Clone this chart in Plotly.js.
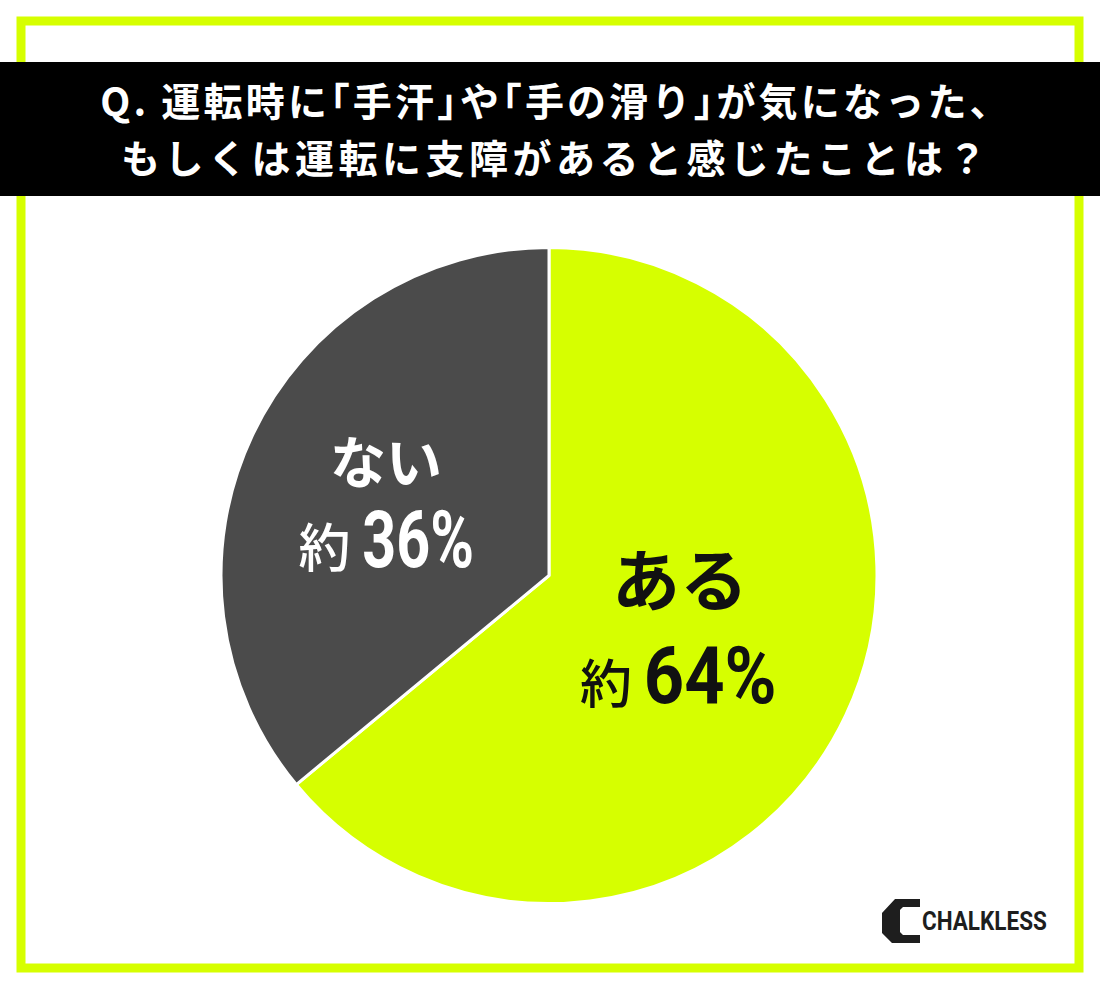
<!DOCTYPE html>
<html><head><meta charset="utf-8">
<script src="https://cdn.plot.ly/plotly-3.0.1.min.js"></script>
<style>
html,body{margin:0;padding:0;background:#fff;}
#chart{width:1100px;height:990px;}
</style></head><body><div id="chart"></div>
<script>
// ---- data ----
const categories = ["ある", "ない"];
const values = [64, 36];
const sliceColors = ["#d6ff00", "#4b4b4b"];
const labelColors = ["#111111", "#ffffff"];
const approxWord = "約";
const titleLines = ["Q. 運転時に「手汗」や「手の滑り」が気になった、", "もしくは運転に支障があると感じたことは？"];
const brandName = "CHALKLESS";

// ---- helpers (pixel -> paper) ----
const W = 1100, H = 990;
const px = x => x / W;
const py = y => 1 - y / H;

function halt(s) {
  return s.replace(/([「」])/g, "<span style='font-feature-settings:\"halt\"'>$1</span>");
}
const titleText =
  "<span style='font-size:39px;letter-spacing:3.2px'>" + halt(titleLines[0]) + "</span><br>" +
  "<span style='font-size:39px;letter-spacing:4.5px'>" + halt(titleLines[1]) + "</span>";

const JP = "Noto Sans CJK JP";
const NUMFONT = "Roboto, Noto Sans, sans-serif";

// label layout per slice: word font size, positions (pixel centres), glyph condensing
const labelStyle = [
  {wordSize: 68, wordX: 680, wordY: 576, numX: 678, numY: 676, squeeze: 0.88},
  {wordSize: 56, wordX: 386, wordY: 458, numX: 386, numY: 540, squeeze: 0.74}
];

const annotations = [];
categories.forEach((c, i) => {
  const st = labelStyle[i];
  annotations.push({
    text: "<b>" + c + "</b>", xref: "paper", yref: "paper",
    x: px(st.wordX), y: py(st.wordY), xanchor: "center", yanchor: "middle",
    showarrow: false, font: {family: JP, size: st.wordSize, color: labelColors[i], weight: 700}
  });
  annotations.push({
    text: "<span style='font-weight:500'>" + approxWord + " </span>" +
          "<span style='font-family:" + NUMFONT + ";font-size:80px;font-weight:700'>" + values[i] + "%</span>",
    xref: "paper", yref: "paper",
    x: px(st.numX), y: py(st.numY), xanchor: "center", yanchor: "middle",
    showarrow: false, font: {family: JP, size: 52, color: labelColors[i]}
  });
});
annotations.push({
  text: "<b>" + brandName + "</b>", xref: "paper", yref: "paper",
  x: px(984), y: py(921), xanchor: "center", yanchor: "middle", showarrow: false,
  font: {family: "Roboto, sans-serif", size: 25, color: "#1e1e1e"}
});

// logo icon outline (pixel coordinates -> paper path)
const iconPts = [[895,899],[920,899],[920,907],[903,907],[900,910],[900,932],[903,935],[920,935],[920,943],[892,943],[882,933],[882,913]];
const iconPath = "M " + iconPts.map(p => px(p[0]).toFixed(5) + " " + py(p[1]).toFixed(5)).join(" L ") + " Z";

const shapes = [
  {type: "rect", xref: "paper", yref: "paper", layer: "below",
   x0: px(21), x1: px(1079), y0: py(21), y1: py(968),
   line: {color: "#d6ff00", width: 9}, fillcolor: "rgba(0,0,0,0)"},
  {type: "rect", xref: "paper", yref: "paper", layer: "below",
   x0: 0, x1: 1, y0: py(196), y1: py(62),
   line: {width: 0}, fillcolor: "#000000"},
  {type: "path", xref: "paper", yref: "paper", layer: "above",
   path: iconPath, fillcolor: "#1e1e1e", line: {width: 0}}
];

const trace = {
  type: "pie",
  labels: categories,
  values: values,
  sort: false,
  direction: "clockwise",
  rotation: 0,
  marker: {colors: sliceColors, line: {color: "#ffffff", width: 3}},
  textinfo: "none",
  hoverinfo: "none",
  showlegend: false,
  domain: {x: [px(221), px(877)], y: [py(904), py(247)]}
};

const layout = {
  width: W, height: H,
  margin: {l: 0, r: 0, t: 0, b: 0},
  paper_bgcolor: "#ffffff",
  plot_bgcolor: "#ffffff",
  showlegend: false,
  title: {
    text: titleText,
    x: px(556), xanchor: "center", xref: "paper",
    y: py(116), yanchor: "middle", yref: "paper",
    font: {family: JP, size: 44, color: "#ffffff", weight: 700}
  },
  shapes: shapes,
  annotations: annotations
};

// condense the numeric / brand glyphs (no condensed font is installed)
function condense() {
  document.querySelectorAll("#chart .annotation-text tspan").forEach(el => {
    const t = el.textContent;
    if (/%$/.test(t)) {
      const i = values.findIndex(v => (v + "%") === t);
      const f = i >= 0 ? labelStyle[i].squeeze : 0.8;
      const w = el.getComputedTextLength();
      el.setAttribute("lengthAdjust", "spacingAndGlyphs");
      el.setAttribute("textLength", (w * f).toFixed(1));
    }
  });
  document.querySelectorAll("#chart .annotation-text").forEach(el => {
    if (el.textContent === brandName) {
      const w = el.getComputedTextLength();
      el.setAttribute("lengthAdjust", "spacingAndGlyphs");
      el.setAttribute("textLength", (w * 0.9).toFixed(1));
    }
  });
}

Plotly.newPlot("chart", [trace], layout, {displayModeBar: false, staticPlot: true}).then(condense);
</script></body></html>
